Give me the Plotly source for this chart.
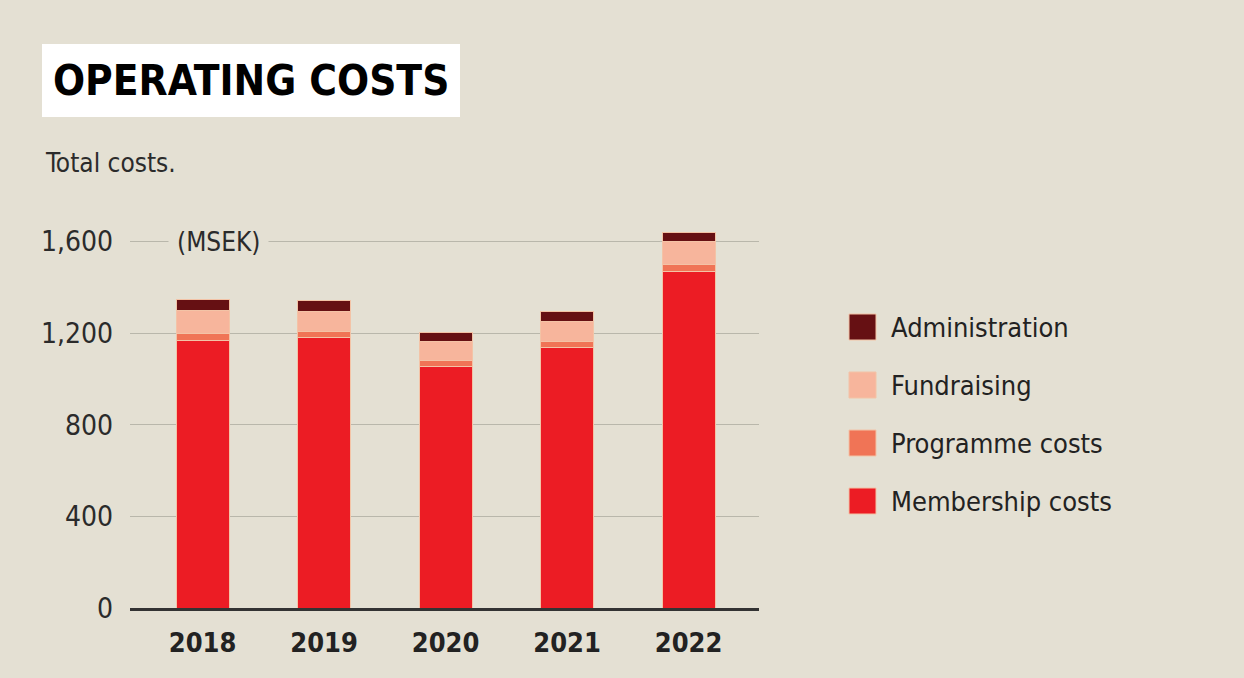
import plotly.graph_objects as go

years = ["2018", "2019", "2020", "2021", "2022"]
membership = [1170, 1182, 1055, 1138, 1470]
programme = [29, 26, 25, 25, 29]
fundraising = [98, 86, 84, 87, 101]
administration = [48, 48, 40, 44, 41]

series_names = ["Membership costs", "Programme costs", "Fundraising", "Administration"]
series_values = [membership, programme, fundraising, administration]
series_colors = ["#ec1c24", "#f07456", "#f7b59c", "#661013"]

y_ticks = [0, 400, 800, 1200, 1600]

W, H = 1244, 678
ML, MR, MT, MB = 130, 485, 218, 70
PW, PH = W - ML - MR, H - MT - MB

def px(x):
    return (x - ML) / PW

def py(y):
    return (H - MB - y) / PH

FONT = "DejaVu Sans Condensed, Liberation Sans Narrow, Arial Narrow, sans-serif"
BG = "#e4e0d3"

fig = go.Figure()
for name, vals, col in zip(series_names, series_values, series_colors):
    fig.add_trace(go.Bar(
        x=years, y=vals, name=name, width=0.436,
        marker=dict(color=col, line=dict(color="#f3c3a6", width=1)),
        showlegend=False,
    ))

shapes = [
    # title box
    dict(type="rect", xref="paper", yref="paper", x0=px(42), x1=px(460), y0=py(117), y1=py(44),
         fillcolor="white", line=dict(width=0)),
]
annotations = [
    dict(text="<b>OPERATING COSTS</b>", xref="paper", yref="paper", x=px(51), y=py(81),
         xanchor="left", yanchor="middle", showarrow=False,
         font=dict(family=FONT, size=42, color="#000000")),
    dict(text="Total costs.", xref="paper", yref="paper", x=px(43), y=py(163),
         xanchor="left", yanchor="middle", showarrow=False,
         font=dict(family=FONT, size=26, color="#2b2b2b")),
    dict(text="(MSEK)", xref="paper", yref="y", x=px(218), y=1600,
         xanchor="center", yanchor="middle", showarrow=False, bgcolor=BG, borderpad=8,
         font=dict(family=FONT, size=26, color="#2b2b2b")),
]

# manual legend (top to bottom: Administration, Fundraising, Programme, Membership)
leg_rows = [327, 385, 443, 501]
for yy, name, col in zip(leg_rows, series_names[::-1], series_colors[::-1]):
    shapes.append(dict(type="rect", xref="paper", yref="paper", x0=px(849), x1=px(876),
                       y0=py(yy + 13), y1=py(yy - 13), fillcolor=col,
                       line=dict(color="#f3c3a6", width=1)))
    annotations.append(dict(text=name, xref="paper", yref="paper", x=px(889), y=py(yy),
                            xanchor="left", yanchor="middle", showarrow=False,
                            font=dict(family=FONT, size=27, color="#222222")))

fig.update_layout(
    width=W, height=H, barmode="stack",
    margin=dict(l=ML, r=MR, t=MT, b=MB, pad=0),
    paper_bgcolor=BG, plot_bgcolor=BG,
    shapes=shapes, annotations=annotations, showlegend=False,
    xaxis=dict(type="category", range=[-0.597, 4.58], showgrid=False,
               showline=True, linecolor="#333333", linewidth=2.5,
               ticks="", ticklabelstandoff=9,
               tickfont=dict(family=FONT, size=27, color="#222222"),
               tickprefix="<b>", ticksuffix="</b>"),
    yaxis=dict(range=[0, 1702.6], tickvals=y_ticks, tickformat=",",
               showgrid=True, gridcolor="#b9b7ab", gridwidth=1, zeroline=False,
               showline=False, ticks="", ticklabelstandoff=16,
               tickfont=dict(family=FONT, size=28, color="#2b2b2b")),
)

fig.write_html("out.html")
